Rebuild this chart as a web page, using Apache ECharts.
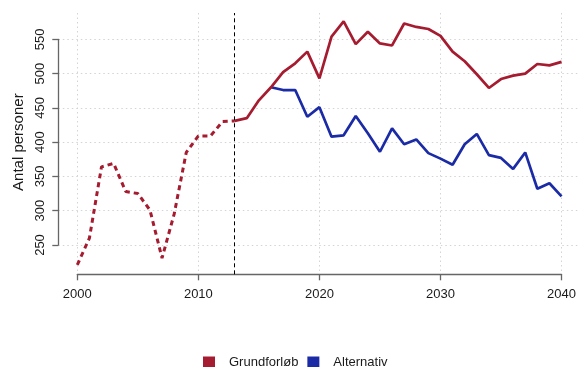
<!DOCTYPE html>
<html>
<head>
<meta charset="utf-8">
<script src="https://cdn.jsdelivr.net/npm/echarts@6/dist/echarts.min.js"></script>
<style>
html,body{margin:0;padding:0;background:#fff;}
#c{width:579px;height:367px;}
</style>
</head>
<body>
<div id="c"></div>
<script>
// Data
var histYears = [2000,2001,2002,2003,2004,2005,2006,2007,2008,2009,2010,2011,2012,2013];
var histValues = [221,260,364,369,328,325,301,231,295,385,409,409,430,431];
var baseYears = [2013,2014,2015,2016,2017,2018,2019,2020,2021,2022,2023,2024,2025,2026,2027,2028,2029,2030,2031,2032,2033,2034,2035,2036,2037,2038,2039,2040];
var baseValues = [431,435,461,480,502,515,532,493,554,576,543,561,544,541,573,568,565,555,532,518,499,479,492,497,500,514,512,517];
var altYears = [2016,2017,2018,2019,2020,2021,2022,2023,2024,2025,2026,2027,2028,2029,2030,2031,2032,2033,2034,2035,2036,2037,2038,2039,2040];
var altValues = [480,476,476,437,451,408,410,438,413,386,420,397,404,384,376,367,397,412,381,377,361,385,332,340,321];
var seriesNames = ['Grundforløb','Alternativ'];
var xTicks = [2000,2010,2020,2030,2040];
var yTicks = [250,300,350,400,450,500,550];
var splitYear = 2013;

function pairs(xs, ys){ return xs.map(function(x,i){ return [x, ys[i]]; }); }

var RED = '#A51B2F', BLUE = '#1B2BA6';
var FONT = '"Liberation Sans", Arial, sans-serif';

var chart = echarts.init(document.getElementById('c'), null, {renderer:'canvas'});
chart.setOption({
  animation: false,
  backgroundColor: '#fff',
  textStyle: {fontFamily: FONT},
  grid: [
    {left: 77.3, right: 15.7, top: 13, bottom: 92.7},
    {left: 58.3, right: 0, top: 39.3, bottom: 122}
  ],
  xAxis: [
    {
      gridIndex: 0, type: 'value', min: xTicks[0], max: xTicks[xTicks.length-1], interval: 10,
      axisLine: {show: true, lineStyle: {color: '#666', width: 1.3}},
      axisTick: {show: true, length: 6, lineStyle: {color: '#666', width: 1.3}},
      axisLabel: {color: '#1a1a1a', fontSize: 13, margin: 13.5, fontFamily: FONT,
        formatter: function(v){ return String(v); }},
      splitLine: {show: true, lineStyle: {color: '#d4d4d4', type: [1.5, 3], width: 1}}
    },
    {
      gridIndex: 1, type: 'value', min: 0, max: 1, show: false
    }
  ],
  yAxis: [
    {
      gridIndex: 0, type: 'value', min: 207.27, max: 588.35, show: false,
      splitLine: {show: false}
    },
    {
      gridIndex: 1, type: 'value', min: yTicks[0], max: yTicks[yTicks.length-1], interval: 50,
      name: 'Antal personer', nameLocation: 'middle', nameGap: 28,
      nameTextStyle: {color: '#1a1a1a', fontSize: 15, fontFamily: FONT},
      axisLine: {show: true, lineStyle: {color: '#666', width: 1.3}},
      axisTick: {show: true, length: 6, lineStyle: {color: '#666', width: 1.3}},
      axisLabel: {color: '#1a1a1a', fontSize: 13, rotate: 90, margin: 11, fontFamily: FONT,
        formatter: function(v){ return String(v); }},
      splitLine: {show: true, lineStyle: {color: '#d4d4d4', type: [1.5, 3], width: 1}}
    }
  ],
  legend: {
    data: seriesNames,
    icon: 'rect',
    itemWidth: 12, itemHeight: 12,
    left: 198, top: 351,
    itemGap: 9,
    textStyle: {color: '#1a1a1a', fontSize: 13, fontFamily: FONT, padding: [0,0,0,9]},
    itemStyle: {borderWidth: 0}
  },
  series: [
    {
      name: seriesNames[0], type: 'line', xAxisIndex: 0, yAxisIndex: 0,
      data: pairs(baseYears, baseValues), showSymbol: false, symbol: 'none',
      lineStyle: {color: RED, width: 2.7}, itemStyle: {color: RED}, z: 4,
      markLine: {
        silent: true, symbol: 'none', label: {show: false},
        lineStyle: {color: '#000', type: [4, 3], width: 1},
        data: [{xAxis: splitYear}]
      }
    },
    {
      name: seriesNames[0], type: 'line', xAxisIndex: 0, yAxisIndex: 0,
      data: pairs(histYears, histValues), showSymbol: false, symbol: 'none',
      lineStyle: {color: RED, width: 3, type: [5, 4]}, itemStyle: {color: RED}, z: 4
    },
    {
      name: seriesNames[1], type: 'line', xAxisIndex: 0, yAxisIndex: 0,
      data: pairs(altYears, altValues), showSymbol: false, symbol: 'none',
      lineStyle: {color: BLUE, width: 2.7}, itemStyle: {color: BLUE}, z: 3
    }
  ]
});
</script>
</body>
</html>
